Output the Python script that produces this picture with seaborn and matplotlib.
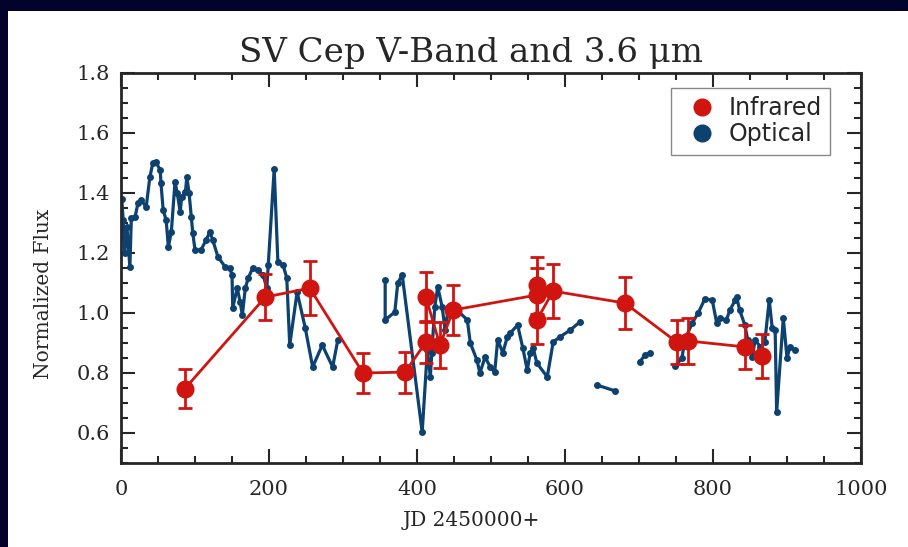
import numpy as np
import pandas as pd
import matplotlib
matplotlib.use("Agg")
import matplotlib.pyplot as plt
import seaborn as sns
from matplotlib.lines import Line2D
from matplotlib.patches import Rectangle
from matplotlib.ticker import MultipleLocator

# optical (V-band) light curve, split into the observing segments
opt_jd = [1, 3, 5, 8, 12, 14, 19, 23, 27, 34, 39, 43, 47, 53, 54, 57, 61, 64, 68, 73, 76, 80, 82, 87, 89, 92, 95, 97,
          100, 108, 115, 120, 124, 131, 141, 147, 150, 151, 157, 161, 164, 168, 172, 178, 185, 192, 197, 199, 207,
          212, 219, 224, 228, 238, 249, 259, 272, 286, 293,
          357, 357, 370, 374, 380, 407, 414, 418, 420, 424, 428, 434, 438, 442, 454, 468, 472, 481, 485, 492, 499,
          505, 509, 516, 522, 526, 536, 543, 549, 553, 557, 562, 576, 584, 593, 607, 620,
          643, 668,
          701, 708, 715,
          749, 758, 762, 772, 780, 789, 799, 805, 809, 818, 823, 830, 832, 836, 843, 847, 853, 857, 864, 870, 876,
          880, 884, 886, 895, 900, 904, 911]
opt_flux = [1.38, 1.31, 1.20, 1.287, 1.153, 1.317, 1.32, 1.367, 1.377, 1.353, 1.453, 1.50, 1.503, 1.477, 1.433,
            1.343, 1.31, 1.22, 1.27, 1.437, 1.40, 1.337, 1.387, 1.403, 1.453, 1.40, 1.32, 1.267,
            1.21, 1.21, 1.243, 1.27, 1.243, 1.187, 1.153, 1.15, 1.127, 1.017, 1.083, 1.037, 0.993, 1.083, 1.117,
            1.15, 1.143, 1.127, 1.083, 1.16, 1.48, 1.17, 1.16, 1.117, 0.893, 1.07, 0.95, 0.82, 0.893, 0.82, 0.91,
            1.11, 0.977, 1.003, 1.10, 1.127, 0.603, 0.877, 0.787, 0.867, 1.02, 1.087, 1.02, 0.943, 1.01, 1.01,
            0.977, 0.90, 0.843, 0.80, 0.853, 0.82, 0.803, 0.91, 0.867, 0.92, 0.933, 0.96, 0.883, 0.81, 0.867,
            0.883, 0.833, 0.787, 0.903, 0.92, 0.943, 0.97,
            0.76, 0.74,
            0.837, 0.86, 0.867,
            0.823, 0.85, 0.91, 0.967, 1.0, 1.047, 1.043, 0.967, 0.983, 0.977, 1.01, 1.043, 1.053, 1.01, 0.96,
            0.91, 0.853, 0.91, 0.887, 0.903, 1.043, 0.95, 0.943, 0.67, 0.983, 0.85, 0.887, 0.877]
opt_seg_len = [59, 37, 2, 3, 28]

# infrared (3.6 micron) points
ir_jd = [86, 195, 255, 327, 384, 412, 412, 431, 449, 562, 562, 562, 584, 681, 751, 766, 843, 866]
ir_flux = [0.747, 1.053, 1.083, 0.80, 0.803, 0.903, 1.053, 0.893, 1.01, 1.06, 1.093, 0.977, 1.073, 1.033,
           0.903, 0.907, 0.887, 0.857]
ir_err = [0.065, 0.077, 0.09, 0.068, 0.068, 0.07, 0.083, 0.077, 0.083, 0.09, 0.095, 0.08, 0.09, 0.087,
          0.073, 0.077, 0.073, 0.072]

blue = "#0c4170"
red = "#d0140f"

seg = np.repeat(np.arange(len(opt_seg_len)), opt_seg_len)
opt = pd.DataFrame({"jd": opt_jd, "flux": opt_flux, "seg": seg})
ir = pd.DataFrame({"jd": ir_jd, "flux": ir_flux, "err": ir_err})

sns.set_style("ticks")
plt.rcParams["font.family"] = ["DejaVu Serif"]

fig = plt.figure(figsize=(9.08, 5.47), dpi=100, facecolor="#03022b")
# white panel inside the dark slide border
fig.add_artist(Rectangle((8 / 908, 0), 1, 1 - 11 / 547, transform=fig.transFigure,
                         facecolor="white", edgecolor="none", zorder=-10))
ax = fig.add_axes([121 / 908, 84 / 547, 740 / 908, 390 / 547])

sns.lineplot(data=opt, x="jd", y="flux", units="seg", estimator=None, sort=False, color=blue,
             lw=2.3, marker="o", markersize=5, markeredgewidth=0, ax=ax, zorder=2)

ax.errorbar(ir["jd"], ir["flux"], yerr=ir["err"], fmt="none", ecolor=red, elinewidth=2,
            capsize=5, capthick=2, zorder=3)
sns.lineplot(data=ir, x="jd", y="flux", estimator=None, sort=False, color=red, lw=2, marker="o",
             markersize=13, markeredgewidth=0, ax=ax, zorder=4)

ax.set_xlim(0, 1000)
ax.set_ylim(0.5, 1.8)
ax.xaxis.set_major_locator(MultipleLocator(200))
ax.xaxis.set_minor_locator(MultipleLocator(50))
ax.yaxis.set_major_locator(MultipleLocator(0.2))
ax.yaxis.set_minor_locator(MultipleLocator(0.05))
ax.tick_params(which="both", direction="in", top=True, right=True, width=1.5, labelsize=15)
ax.tick_params(axis="x", pad=12)
ax.tick_params(axis="y", pad=8)
ax.tick_params(which="major", length=10)
ax.tick_params(which="minor", length=5)
for s in ax.spines.values():
    s.set_linewidth(2)

ax.set_xlabel("JD 2450000+", fontsize=14.5)
ax.xaxis.set_label_coords(0.473, -0.122)
ax.set_ylabel("Normalized Flux", fontsize=14.5)
ax.yaxis.set_label_coords(-0.092, 0.433)
ax.set_title("SV Cep V-Band and 3.6 μm", fontsize=24.5, pad=8, x=0.473)

handles = [Line2D([], [], ls="none", marker="o", color=red, markersize=12, label="Infrared"),
           Line2D([], [], ls="none", marker="o", color=blue, markersize=12, label="Optical")]
ax.legend(handles=handles, loc="upper right", bbox_to_anchor=(0.958, 0.962), borderaxespad=0,
          fancybox=False, edgecolor="#888888", framealpha=1, handletextpad=0.1, borderpad=0.35,
          labelspacing=0.1, prop={"family": "DejaVu Sans", "size": 17})

fig.savefig("out.png", dpi=100, facecolor=fig.get_facecolor())
